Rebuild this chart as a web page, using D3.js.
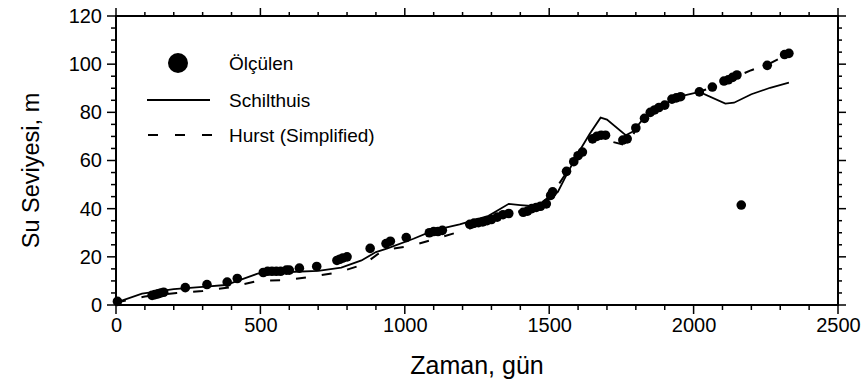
<!DOCTYPE html>
<html><head><meta charset="utf-8">
<script src="https://cdn.jsdelivr.net/npm/d3@7"></script>
<style>body{margin:0;background:#fff}svg{font-family:"Liberation Sans",Arial,sans-serif}</style>
</head><body><svg id="c" width="868" height="386"></svg>
<script>
const measuredX = [5,125,135,145,155,165,240,315,385,420,510,525,540,555,570,590,600,635,695,765,775,785,800,880,935,950,1005,1085,1100,1115,1130,1225,1240,1255,1270,1285,1300,1320,1340,1360,1410,1425,1440,1455,1470,1490,1505,1512,1560,1585,1600,1615,1650,1665,1680,1695,1755,1770,1800,1830,1850,1865,1880,1900,1925,1940,1955,2020,2065,2105,2120,2135,2150,2165,2255,2315,2330];
const measuredY = [1.5,4,4.3,4.6,5,5.3,7.2,8.5,9.5,11,13.5,14,14,14,14,14.5,14.5,15.3,16,18.5,19,19.5,20,23.5,25.5,26.5,28,30,30.5,30.5,31,33.5,34,34.2,34.5,35,35.5,36.5,37.5,38,38.5,39,40,40.5,41,42,45.5,47,55.5,59.5,62,63.5,69,70,70.5,70.5,68.5,69,73.5,77.5,80,81,82,83,85.5,86,86.5,88.5,90.5,93,93.5,94.5,95.5,41.5,99.5,104,104.5];
const schilX = [0,90,200,300,380,490,600,700,780,850,900,940,1030,1100,1190,1290,1360,1400,1450,1500,1530,1560,1600,1640,1678,1700,1765,1790,1830,1900,1950,2020,2110,2140,2200,2265,2330];
const schilY = [1,4.7,6.6,7.5,8.3,13,13.7,14.2,15.5,18.5,22,23.5,27.5,31,33.5,37,42,41.5,41,44,47,54,63,71,77.8,77,70.5,72,78,83.5,86.5,88.5,83.6,84,87.5,90.2,92.3];
const hurstX = [0,100,210,300,400,490,590,680,770,860,905,940,1030,1120,1220,1300,1400,1460,1510,1560,1600,1650,1690,1710,1760,1780,1800,1850,1900,2000,2060,2150,2200,2260,2330];
const hurstY = [1,3.5,5,5.8,7.4,10,10.3,11.8,13.5,17,21,23,24.8,28,31.5,35,39,41,46,55,62,68.5,70,68,66.5,68,73,80,83,88,90,95,97.5,100,104.5];
const xTicks = [0,500,1000,1500,2000,2500];
const yTicks = [0,20,40,60,80,100,120];
const legendLabels = ["Ölçülen","Schilthuis","Hurst (Simplified)"];

const svg = d3.select("#c");
const L=116,R=838,T=16,B=305;
const x = d3.scaleLinear().domain([0,2500]).range([L,R]);
const y = d3.scaleLinear().domain([0,120]).range([B,T]);
const FF = '"Liberation Sans",Arial,sans-serif';

svg.append("rect").attr("x",L).attr("y",T).attr("width",R-L).attr("height",B-T)
  .attr("fill","none").attr("stroke","#000").attr("stroke-width",2);

const xMinor = d3.range(0,2501,100);
const yMinor = d3.range(0,121,5);
const g = svg.append("g").attr("stroke","#000").attr("stroke-width",1.5);
xMinor.forEach(v=>{
  const major = v%500===0;
  const len = major?9:5;
  g.append("line").attr("x1",x(v)).attr("x2",x(v)).attr("y1",B).attr("y2",B+len);
  g.append("line").attr("x1",x(v)).attr("x2",x(v)).attr("y1",T).attr("y2",T-len+1);
});
yMinor.forEach(v=>{
  const major = v%20===0;
  const len = major?9:5;
  g.append("line").attr("y1",y(v)).attr("y2",y(v)).attr("x1",L).attr("x2",L-len);
  g.append("line").attr("y1",y(v)).attr("y2",y(v)).attr("x1",R).attr("x2",R+len-1);
});

const xa = svg.append("g").attr("transform",`translate(0,${B})`)
  .call(d3.axisBottom(x).tickValues(xTicks).tickFormat(d3.format("d")).tickSize(0).tickPadding(13));
xa.select(".domain").remove();
xa.selectAll("text").attr("font-size",20).attr("font-family",FF).attr("fill","#000");
const ya = svg.append("g").attr("transform",`translate(${L},0)`)
  .call(d3.axisLeft(y).tickValues(yTicks).tickFormat(d3.format("d")).tickSize(0).tickPadding(14));
ya.select(".domain").remove();
ya.selectAll("text").attr("font-size",20).attr("font-family",FF).attr("fill","#000");

svg.append("text").attr("x",(L+R)/2).attr("y",374).attr("text-anchor","middle")
  .attr("font-size",25).attr("font-family",FF).text("Zaman, gün");
svg.append("text").attr("transform",`translate(39,${(T+B)/2+10}) rotate(-90)`).attr("text-anchor","middle")
  .attr("font-size",23.5).attr("font-family",FF).text("Su Seviyesi, m");

const line = d3.line().x(d=>x(d[0])).y(d=>y(d[1]));
const schil = schilX.map((v,i)=>[v,schilY[i]]);
const hurst = hurstX.map((v,i)=>[v,hurstY[i]]);
svg.append("path").datum(hurst).attr("d",line).attr("fill","none").attr("stroke","#000")
  .attr("stroke-width",2).attr("stroke-dasharray","10,16");
svg.append("path").datum(schil).attr("d",line).attr("fill","none").attr("stroke","#000")
  .attr("stroke-width",1.8);

svg.append("g").selectAll("circle").data(measuredX.map((v,i)=>[v,measuredY[i]])).join("circle")
  .attr("cx",d=>x(d[0])).attr("cy",d=>y(d[1])).attr("r",4.8).attr("fill","#000");

const lg = svg.append("g");
lg.append("circle").attr("cx",178).attr("cy",63).attr("r",10).attr("fill","#000");
lg.append("line").attr("x1",147).attr("x2",210).attr("y1",100).attr("y2",100).attr("stroke","#000").attr("stroke-width",1.8);
lg.append("line").attr("x1",148).attr("x2",212).attr("y1",135).attr("y2",135).attr("stroke","#000").attr("stroke-width",2).attr("stroke-dasharray","10,17");
legendLabels.forEach((t,i)=>{
  lg.append("text").attr("x",229).attr("y",[63,100,135][i]).attr("dy","0.35em").attr("font-size",19).attr("font-family",FF).text(t);
});
</script></body></html>
